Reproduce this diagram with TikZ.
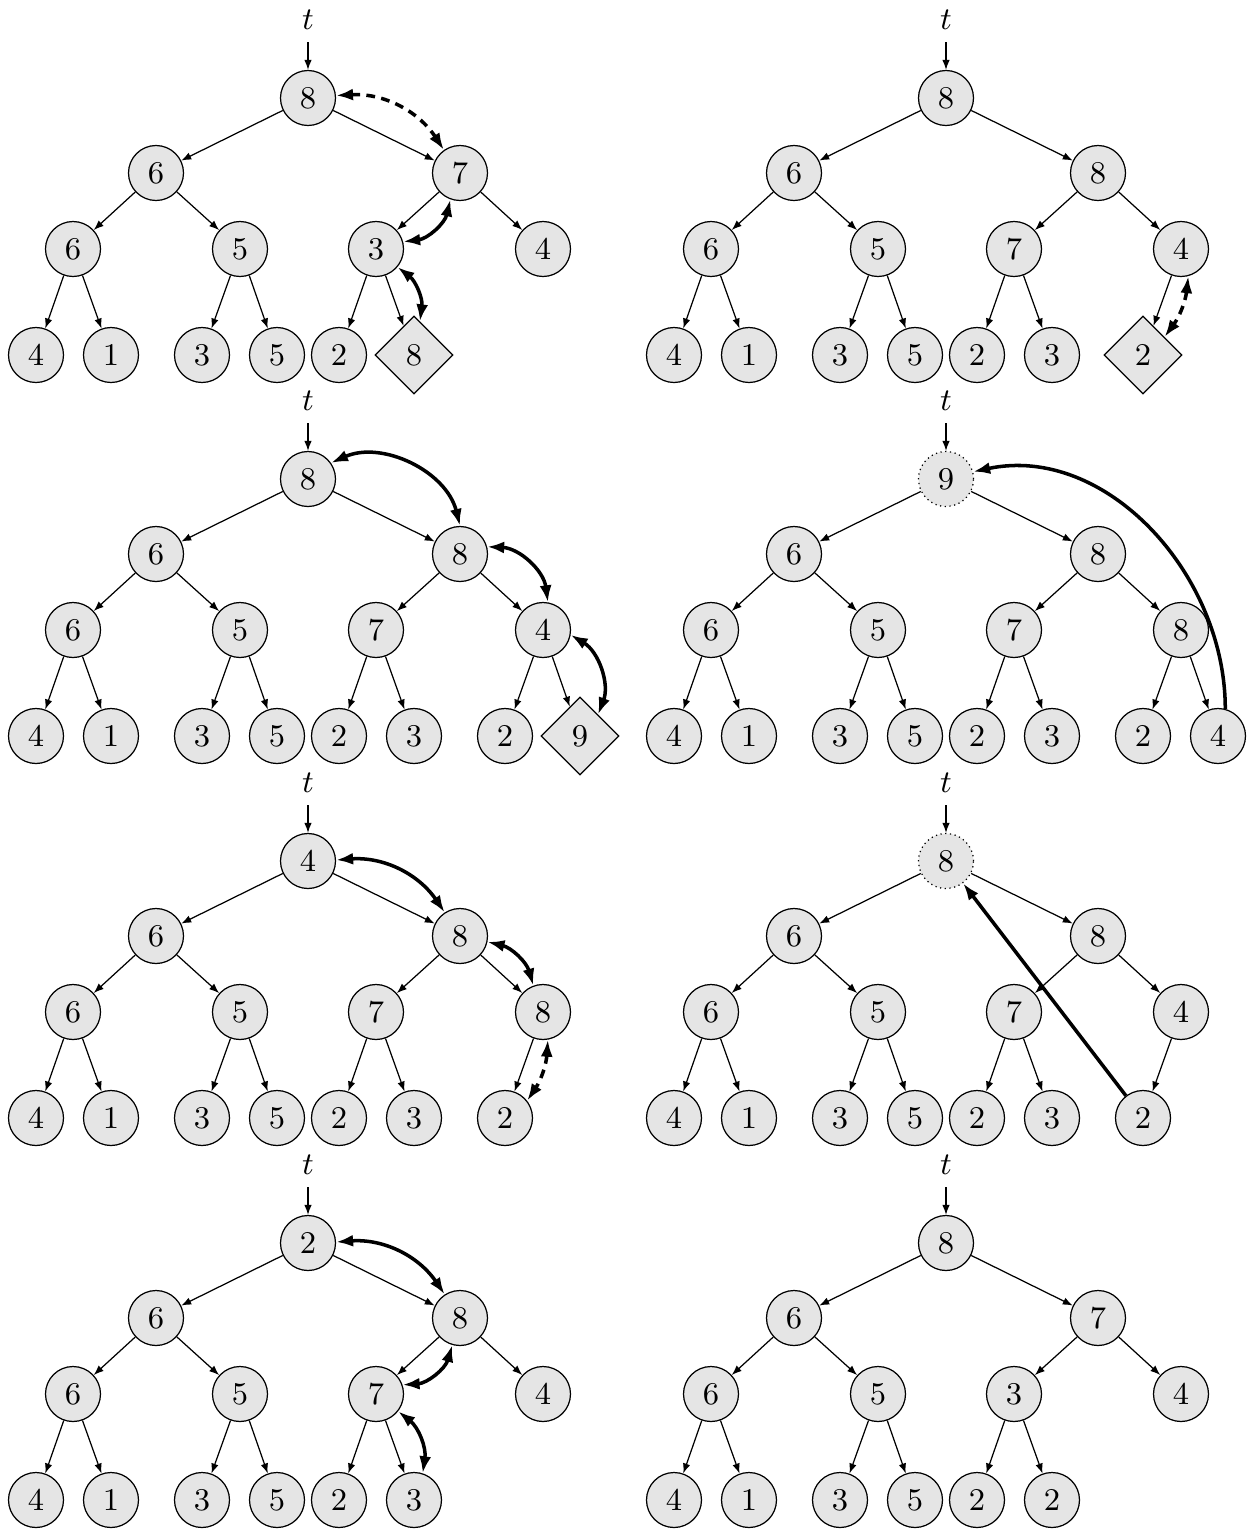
\documentclass[tikz,border=0pt]{standalone}
\usetikzlibrary{arrows.meta,shapes.geometric}

\tikzset{
  hnode/.style={circle,draw,fill=black!10,minimum size=5.5mm,inner sep=0pt,line width=0.35pt},
  hnew/.style={diamond,draw,fill=black!10,minimum size=7.8mm,inner sep=0pt,line width=0.35pt},
  hvoid/.style={hnode,densely dotted},
  link/.style={-{Latex[length=1mm,width=0.75mm]},line width=0.35pt},
  swap/.style={{Latex[length=1.7mm,width=1.2mm]}-{Latex[length=1.7mm,width=1.2mm]},line width=1pt},
  swapdash/.style={swap,dash pattern=on 2.5pt off 1.8pt},
  move/.style={-{Latex[length=1.7mm,width=1.2mm]},line width=1pt}
}

% heap slots: node i hangs below node i/2
\newcommand{\heaptree}[3]{%
  \begin{scope}[shift={#2}]
    \foreach \i/\x/\y in {1/0/0,2/-152/-75,3/152/-75,4/-235/-151,5/-68/-151,6/68/-151,7/235/-151,
      8/-272/-257,9/-197/-257,10/-106/-257,11/-31/-257,12/31/-257,13/106/-257,14/197/-257,15/272/-257}
      \coordinate (h\i) at (\x,\y);
    \node (#1t) at (0,78) {$t$};
    \foreach \i/\v/\s in {#3} {
      \node[\s] (#1\i) at (h\i) {$\v$};
      \ifnum\i>1
        \pgfmathtruncatemacro\p{\i/2}
        \draw[link] (#1\p) -- (#1\i);
      \fi
    }
    \draw[link] (#1t) -- (#11);
  \end{scope}}

\begin{document}
\begin{tikzpicture}[x=0.1mm,y=0.1mm,font=\small]
  \useasboundingbox (0,0) rectangle (1255,-1531);

  % Row 1
  \heaptree{A}{(308,-98)}{1/8/hnode,2/6/hnode,3/7/hnode,4/6/hnode,5/5/hnode,6/3/hnode,7/4/hnode,
    8/4/hnode,9/1/hnode,10/3/hnode,11/5/hnode,12/2/hnode,13/8/hnew}
  \draw[swapdash] (A1.5) to[bend left=30] (A3.125);
  \draw[swap] (A6.15) to[bend right=35] (A3.250);
  \draw[swap] (A6.-40) to[bend left=30] (A13.80);

  \heaptree{B}{(946,-98)}{1/8/hnode,2/6/hnode,3/8/hnode,4/6/hnode,5/5/hnode,6/7/hnode,7/4/hnode,
    8/4/hnode,9/1/hnode,10/3/hnode,11/5/hnode,12/2/hnode,13/3/hnode,14/2/hnew}
  \draw[swapdash] (B7.-75) to[bend left=15] (B14.40);

  % Row 2
  \heaptree{C}{(308,-479)}{1/8/hnode,2/6/hnode,3/8/hnode,4/6/hnode,5/5/hnode,6/7/hnode,7/4/hnode,
    8/4/hnode,9/1/hnode,10/3/hnode,11/5/hnode,12/2/hnode,13/3/hnode,14/2/hnode,15/9/hnew}
  \draw[swap] (C1.35) to[bend left=50] (C3.90);
  \draw[swap] (C3.15) to[bend left=40] (C7.80);
  \draw[swap] (C7.-10) to[bend left=40] (C15.50);

  \heaptree{D}{(946,-479)}{1/9/hvoid,2/6/hnode,3/8/hnode,4/6/hnode,5/5/hnode,6/7/hnode,7/8/hnode,
    8/4/hnode,9/1/hnode,10/3/hnode,11/5/hnode,12/2/hnode,13/3/hnode,14/2/hnode,15/4/hnode}
  \draw[move] (D15.75) to[out=90,in=12] (D1.15);

  % Row 3
  \heaptree{E}{(308,-861)}{1/4/hnode,2/6/hnode,3/8/hnode,4/6/hnode,5/5/hnode,6/7/hnode,7/8/hnode,
    8/4/hnode,9/1/hnode,10/3/hnode,11/5/hnode,12/2/hnode,13/3/hnode,14/2/hnode}
  \draw[swap] (E1.2) to[bend left=30] (E3.123);
  \draw[swap] (E3.-12) to[bend left=30] (E7.110);
  \draw[swapdash] (E7.-80) to[bend left=15] (E14.38);

  \heaptree{F}{(946,-861)}{1/8/hvoid,2/6/hnode,3/8/hnode,4/6/hnode,5/5/hnode,6/7/hnode,7/4/hnode,
    8/4/hnode,9/1/hnode,10/3/hnode,11/5/hnode,12/2/hnode,13/3/hnode,14/2/hnode}
  \draw[move] (F14) -- (F1);

  % Row 4
  \heaptree{G}{(308,-1243)}{1/2/hnode,2/6/hnode,3/8/hnode,4/6/hnode,5/5/hnode,6/7/hnode,7/4/hnode,
    8/4/hnode,9/1/hnode,10/3/hnode,11/5/hnode,12/2/hnode,13/3/hnode}
  \draw[swap] (G1.2) to[bend left=30] (G3.123);
  \draw[swap] (G6.19) to[bend right=35] (G3.254);
  \draw[swap] (G6.-38) to[bend left=30] (G13.72);

  \heaptree{H}{(946,-1243)}{1/8/hnode,2/6/hnode,3/7/hnode,4/6/hnode,5/5/hnode,6/3/hnode,7/4/hnode,
    8/4/hnode,9/1/hnode,10/3/hnode,11/5/hnode,12/2/hnode,13/2/hnode}
\end{tikzpicture}
\end{document}
